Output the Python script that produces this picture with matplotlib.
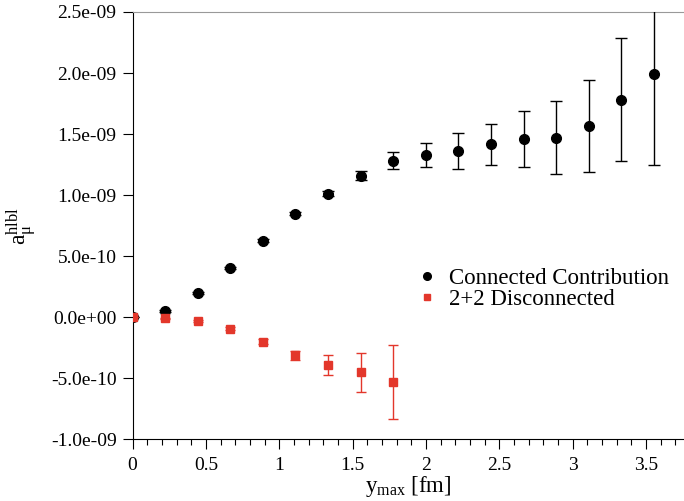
import matplotlib
matplotlib.use("Agg")
import matplotlib.pyplot as plt
from matplotlib.lines import Line2D
from matplotlib.ticker import FixedLocator, MultipleLocator, FuncFormatter

plt.rcParams['font.family'] = ['Liberation Serif', 'DejaVu Serif']
plt.rcParams['mathtext.fontset'] = 'custom'
plt.rcParams['mathtext.rm'] = 'Liberation Serif'
plt.rcParams['mathtext.it'] = 'Liberation Serif:italic'

# y_max values [fm]
ymax_conn = [0.0, 0.222, 0.444, 0.667, 0.889, 1.111, 1.333, 1.556, 1.778,
             2.0, 2.222, 2.444, 2.667, 2.889, 3.111, 3.333, 3.556]
conn = [0.0, 0.05e-9, 0.20e-9, 0.405e-9, 0.627e-9, 0.848e-9, 1.01e-9, 1.16e-9, 1.28e-9,
        1.33e-9, 1.362e-9, 1.416e-9, 1.46e-9, 1.469e-9, 1.567e-9, 1.783e-9, 1.99e-9]
conn_err = [0.0, 0.005e-9, 0.008e-9, 0.01e-9, 0.01e-9, 0.012e-9, 0.02e-9, 0.04e-9, 0.07e-9,
            0.10e-9, 0.145e-9, 0.17e-9, 0.23e-9, 0.30e-9, 0.38e-9, 0.50e-9, 0.74e-9]

ymax_disc = [0.0, 0.222, 0.444, 0.667, 0.889, 1.111, 1.333, 1.556, 1.778]
disc = [0.0, -0.007e-9, -0.03e-9, -0.095e-9, -0.20e-9, -0.31e-9, -0.39e-9, -0.45e-9, -0.53e-9]
disc_err = [0.0, 0.004e-9, 0.006e-9, 0.012e-9, 0.02e-9, 0.037e-9, 0.08e-9, 0.16e-9, 0.30e-9]

x_ticks = [0, 0.5, 1, 1.5, 2, 2.5, 3, 3.5]
y_ticks = [-1.0e-9, -0.5e-9, 0.0, 0.5e-9, 1.0e-9, 1.5e-9, 2.0e-9, 2.5e-9]

red = '#e3372b'

fig = plt.figure(figsize=(6.84, 5.01), dpi=100)
W, H = 684, 501
left, right, top, bottom = 132.5, 684, 12, 439.3
ax = fig.add_axes([left / W, 1 - bottom / H, (right - left) / W, (bottom - top) / H])

ax.errorbar(ymax_conn, conn, yerr=conn_err, fmt='o', color='black', ms=7,
            elinewidth=1, capsize=4.3, capthick=1, zorder=3)
ax.errorbar(ymax_disc, disc, yerr=disc_err, fmt='s', color=red, ms=6,
            elinewidth=1, capsize=3.8, capthick=1, zorder=4)

ax.set_xlim(0, 3.76)
ax.set_ylim(-1.0e-9, 2.5e-9)
ax.xaxis.set_major_locator(FixedLocator(x_ticks))
ax.xaxis.set_minor_locator(FixedLocator([i / 10 for i in range(1, 38) if i % 5]))
ax.yaxis.set_major_locator(FixedLocator(y_ticks))
ax.xaxis.set_major_formatter(FuncFormatter(lambda v, p: f"{v:g}"))
ax.yaxis.set_major_formatter(FuncFormatter(lambda v, p: f"{v:.1e}"))

ax.tick_params(axis='both', which='major', direction='out', length=7.5, width=0.8,
               labelsize=14, color='black')
ax.tick_params(axis='x', which='minor', direction='out', length=4.5, width=0.8)
ax.tick_params(axis='x', pad=5)
ax.tick_params(axis='y', pad=4)

ax.spines['right'].set_visible(False)
ax.spines['top'].set_color('#999999')
for s in ['left', 'bottom', 'top']:
    ax.spines[s].set_linewidth(0.8)

ax.set_xlabel(r'$\mathrm{y}_{\mathrm{max}}$ [fm]', fontsize=16.5, labelpad=0)
ax.set_ylabel(r'$\mathrm{a}_{\mathrm{μ}}^{\mathrm{hlbl}}$', fontsize=17, labelpad=8.5)

handles = [Line2D([], [], ls='none', marker='o', color='black', ms=5.5),
           Line2D([], [], ls='none', marker='s', color=red, ms=4.5)]
ax.legend(handles, ['Connected Contribution', '2+2 Disconnected'], frameon=False,
          fontsize=16.5, loc='upper left', bbox_to_anchor=(418 / W, 1 - 268 / H),
          bbox_transform=fig.transFigure, borderpad=0, borderaxespad=0,
          handlelength=0.8, handletextpad=0.55, labelspacing=0.0)

fig.savefig('out.png', dpi=100)
